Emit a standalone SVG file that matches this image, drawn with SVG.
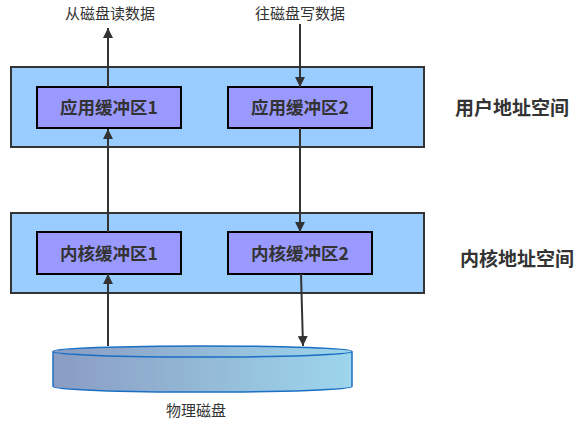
<svg xmlns="http://www.w3.org/2000/svg" width="582" height="426" viewBox="0 0 582 426">
<style>
.outer{fill:#99ccff;stroke:#333;stroke-width:2}
.inner{fill:#9999ff;stroke:#000;stroke-width:2}
.lbl{font-family:"Noto Sans CJK SC","Noto Sans",sans-serif;font-weight:bold;font-size:17.5px;fill:#333;text-anchor:middle}
.sm{font-family:"Noto Sans CJK SC","Noto Sans",sans-serif;font-size:15px;fill:#333;text-anchor:middle}
.side{font-family:"Noto Sans CJK SC","Noto Sans",sans-serif;font-weight:bold;font-size:19px;fill:#333}
.c{stroke:#333;stroke-width:2;fill:none;marker-end:url(#ah)}
</style>
<defs>
<marker id="ah" viewBox="0 0 10 10" refX="10" refY="5" markerWidth="5" markerHeight="5" orient="auto" markerUnits="strokeWidth">
<path d="M0,0 L10,5 L0,10 Z" fill="#333"/>
</marker>
<linearGradient id="dg" x1="0" y1="0" x2="1" y2="0">
<stop offset="0" stop-color="#8a9cc2"/>
<stop offset="1" stop-color="#9dd6ec"/>
</linearGradient>
</defs>
<g id="user-space">
<rect class="outer" x="11" y="67" width="413" height="80"/>
<text class="side" x="455" y="115">用户地址空间</text>
</g>
<g id="kernel-space">
<rect class="outer" x="11" y="213" width="413" height="80"/>
<text class="side" x="460" y="266">内核地址空间</text>
</g>
<g id="app-buf1">
<rect class="inner" x="37" y="87" width="144" height="41"/>
<text class="lbl" x="109" y="114">应用缓冲区1</text>
</g>
<g id="app-buf2">
<rect class="inner" x="228" y="87" width="144" height="41"/>
<text class="lbl" x="300" y="114">应用缓冲区2</text>
</g>
<g id="k-buf1">
<rect class="inner" x="37" y="232" width="144" height="42"/>
<text class="lbl" x="109" y="260">内核缓冲区1</text>
</g>
<g id="k-buf2">
<rect class="inner" x="228" y="232" width="144" height="42"/>
<text class="lbl" x="300" y="260">内核缓冲区2</text>
</g>
<g id="disk">
<path d="M53,351.5 L53,386.5 A149.5,5.5 0 0 0 352,386.5 L352,351.5" fill="url(#dg)" stroke="#1a6fc4" stroke-width="1.5"/>
<ellipse cx="202.5" cy="351.5" rx="149.5" ry="5.5" fill="url(#dg)" stroke="#1a6fc4" stroke-width="1.5"/>
<text class="sm" x="196" y="416">物理磁盘</text>
</g>
<g id="read-label"><text class="sm" x="110" y="19">从磁盘读数据</text></g>
<g id="write-label"><text class="sm" x="300" y="19">往磁盘写数据</text></g>
<g id="connectors">
<path class="c" d="M108,346 L108,274"/>
<path class="c" d="M108,232 L108,129"/>
<path class="c" d="M108,87 L108,28"/>
<path class="c" d="M300,24 L300,87"/>
<path class="c" d="M300,128 L300,232"/>
<path class="c" d="M301,274 L303,346"/>
</g>
</svg>
